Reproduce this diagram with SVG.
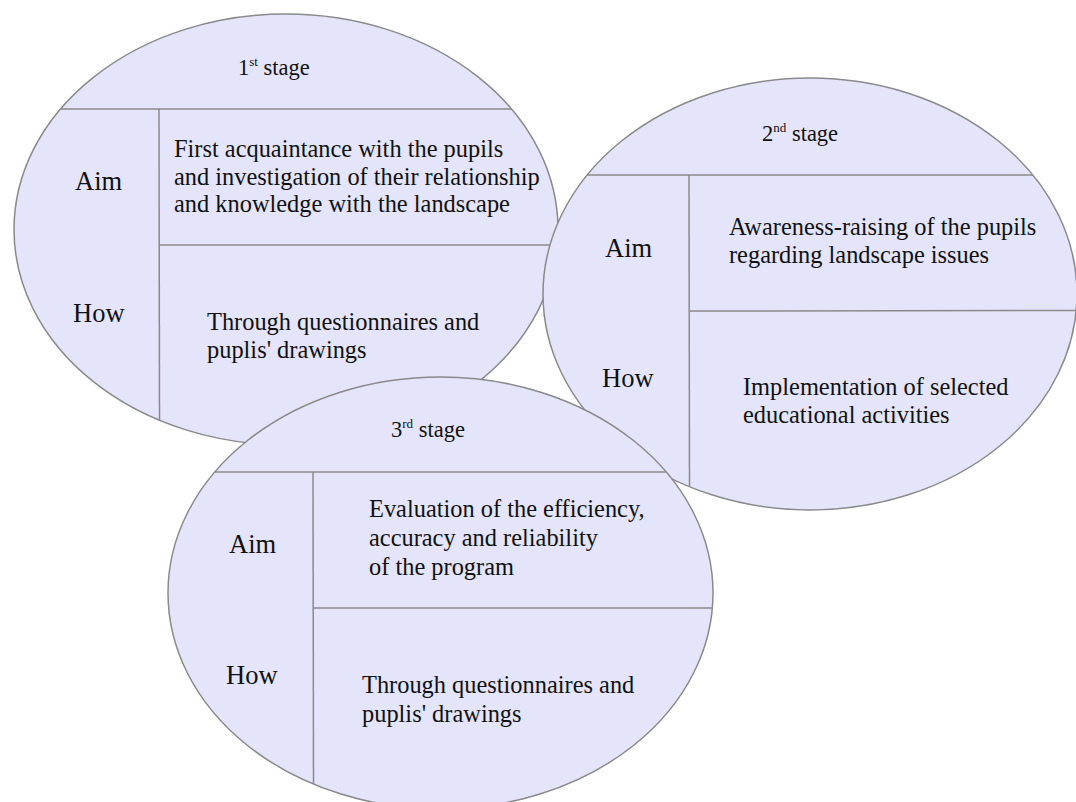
<svg xmlns="http://www.w3.org/2000/svg" width="1076" height="802" viewBox="0 0 1076 802">
<style>
.shape{fill:#e4e4fb;stroke:#8a8a8a;stroke-width:1.5}
.div{stroke:#8a8a8a;stroke-width:1.5;fill:none}
.t{font-family:"Liberation Serif","Times New Roman",serif;fill:#111}
.hd{font-size:22.5px}
.lb{font-size:26.5px}
.bd{font-size:24.4px}
.sup{font-size:13px}
</style>
<rect width="1076" height="802" fill="#ffffff"/>
<g id="stage1">
<ellipse class="shape" cx="286" cy="229.5" rx="272" ry="215.5"/>
<line class="div" x1="60.5" y1="109" x2="511.5" y2="109"/>
<line class="div" x1="159" y1="109" x2="159.5" y2="420"/>
<line class="div" x1="159" y1="245" x2="557.3" y2="245"/>
<text class="t hd" x="238" y="75">1<tspan class="sup" dy="-9">st</tspan><tspan dy="9"> stage</tspan></text>
<text class="t lb" x="75" y="190">Aim</text>
<text class="t lb" x="73" y="322">How</text>
<text class="t bd" x="174" y="157">First acquaintance with the pupils</text>
<text class="t bd" x="174" y="184.5">and investigation of their relationship</text>
<text class="t bd" x="174" y="212">and knowledge with the landscape</text>
<text class="t bd" x="207" y="330">Through questionnaires and</text>
<text class="t bd" x="207" y="358">puplis' drawings</text>
</g>
<g id="stage2">
<ellipse class="shape" cx="810" cy="294" rx="267" ry="216"/>
<line class="div" x1="587" y1="175" x2="1033" y2="175"/>
<line class="div" x1="689" y1="175" x2="689.5" y2="486"/>
<line class="div" x1="689" y1="311" x2="1076.5" y2="310.5"/>
<text class="t hd" x="762" y="141">2<tspan class="sup" dy="-9">nd</tspan><tspan dy="9"> stage</tspan></text>
<text class="t lb" x="605" y="257">Aim</text>
<text class="t lb" x="602" y="387">How</text>
<text class="t bd" x="729" y="235">Awareness-raising of the pupils</text>
<text class="t bd" x="729" y="263">regarding landscape issues</text>
<text class="t bd" x="743" y="395">Implementation of selected</text>
<text class="t bd" x="743" y="423">educational activities</text>
</g>
<g id="stage3">
<ellipse class="shape" cx="440.5" cy="593" rx="272.5" ry="216"/>
<line class="div" x1="215" y1="472" x2="666" y2="472"/>
<line class="div" x1="313" y1="472" x2="313.5" y2="784"/>
<line class="div" x1="313" y1="608" x2="712.3" y2="608"/>
<text class="t hd" x="391" y="437">3<tspan class="sup" dy="-9">rd</tspan><tspan dy="9"> stage</tspan></text>
<text class="t lb" x="229" y="553">Aim</text>
<text class="t lb" x="226" y="684">How</text>
<text class="t bd" x="369" y="517">Evaluation of the efficiency,</text>
<text class="t bd" x="369" y="546">accuracy and reliability</text>
<text class="t bd" x="369" y="575">of the program</text>
<text class="t bd" x="362" y="693">Through questionnaires and</text>
<text class="t bd" x="362" y="722">puplis' drawings</text>
</g>
<g id="connectors"/>
</svg>
